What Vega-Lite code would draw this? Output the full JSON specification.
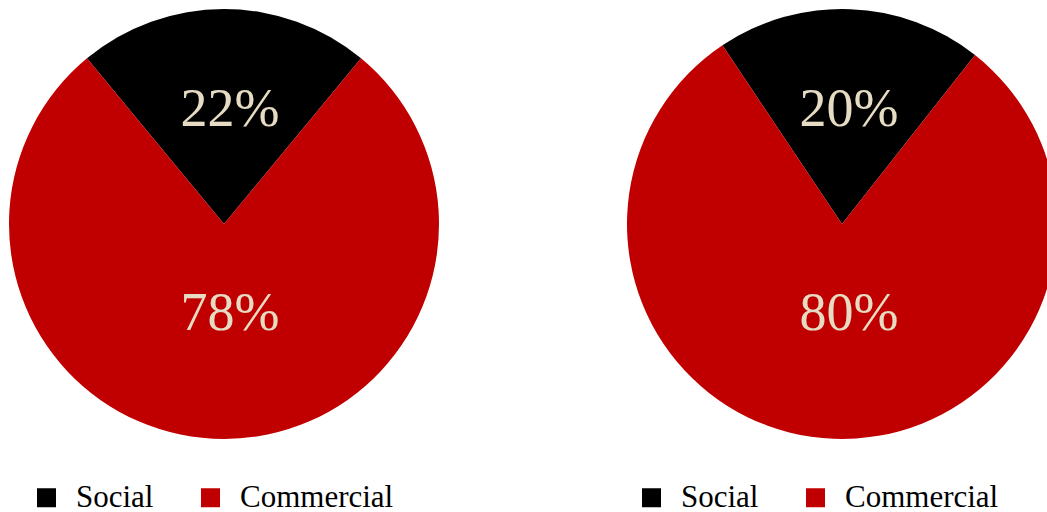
{
  "$schema": "https://vega.github.io/schema/vega-lite/v6.json",
  "padding": 0,
  "background": "white",
  "spacing": 170,
  "config": {
    "view": {"stroke": null},
    "font": "Liberation Serif",
    "legend": {
      "orient": "none",
      "legendX": 31,
      "legendY": 482,
      "direction": "horizontal",
      "symbolType": "square",
      "symbolSize": 361,
      "symbolStrokeWidth": 0,
      "labelFont": "Liberation Serif",
      "labelFontSize": 31,
      "labelColor": "#000000",
      "labelOffset": 14,
      "columnPadding": 41,
      "title": null
    }
  },
  "resolve": {
    "scale": {"color": "independent", "theta": "independent"},
    "legend": {"color": "independent"}
  },
  "hconcat": [
    {
      "width": 448,
      "height": 448,
      "data": {"values": [
        {"category": "Social", "pct": 0.22},
        {"category": "Commercial", "pct": 0.78}
      ]},
      "encoding": {
        "order": {"field": "category", "sort": "ascending"},
        "color": {"field": "category", "type": "nominal",
          "scale": {"domain": ["Social", "Commercial"], "range": ["#000000", "#c00000"]},
          "legend": {"title": null}}
      },
      "resolve": {"scale": {"theta": "independent"}},
      "layer": [
        {"mark": {"type": "arc", "outerRadius": 215},
         "encoding": {"theta": {"field": "pct", "type": "quantitative", "stack": true,
          "scale": {"range": [0.6912, 6.9744]}}}},
        {"mark": {"type": "text", "radius": 102, "dy": -12, "dx": 6, "fontSize": 54, "font": "Liberation Serif", "baseline": "middle", "align": "center"},
         "encoding": {
           "theta": {"field": "pct", "type": "quantitative", "stack": true,
             "scale": {"range": [0.6912, 6.9744]}},
           "text": {"field": "pct", "type": "quantitative", "format": ".0%"},
           "color": {"value": "#e6dcc3"}}}
      ]
    },
    {
      "width": 448,
      "height": 448,
      "data": {"values": [
        {"category": "Social", "pct": 0.20},
        {"category": "Commercial", "pct": 0.80}
      ]},
      "encoding": {
        "order": {"field": "category", "sort": "ascending"},
        "color": {"field": "category", "type": "nominal",
          "scale": {"domain": ["Social", "Commercial"], "range": ["#000000", "#c00000"]},
          "legend": {"title": null, "legendX": 18}}
      },
      "resolve": {"scale": {"theta": "independent"}},
      "layer": [
        {"mark": {"type": "arc", "outerRadius": 215},
         "encoding": {"theta": {"field": "pct", "type": "quantitative", "stack": true,
          "scale": {"range": [0.667, 6.9502]}}}},
        {"mark": {"type": "text", "radius": 102, "dy": -12, "dx": 7, "fontSize": 54, "font": "Liberation Serif", "baseline": "middle", "align": "center"},
         "encoding": {
           "theta": {"field": "pct", "type": "quantitative", "stack": true,
             "scale": {"range": [0.6283, 6.9115]}},
           "text": {"field": "pct", "type": "quantitative", "format": ".0%"},
           "color": {"value": "#e6dcc3"}}}
      ]
    }
  ]
}
